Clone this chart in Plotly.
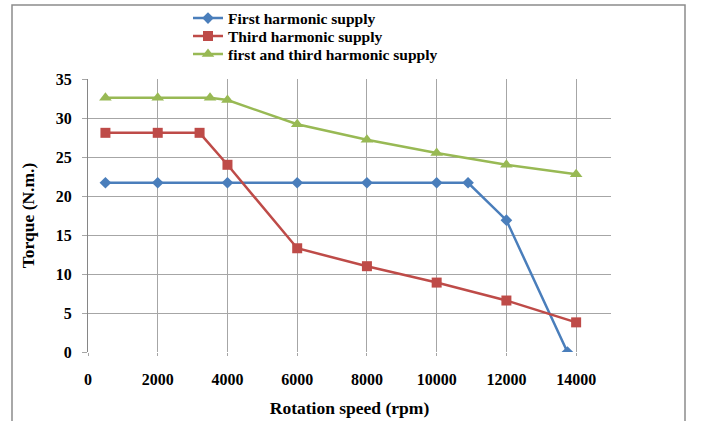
import plotly.graph_objects as go

first_x = [500, 2000, 4000, 6000, 8000, 10000, 10900, 12000, 13750]
first_y = [21.7, 21.7, 21.7, 21.7, 21.7, 21.7, 21.7, 16.9, 0.0]

third_x = [500, 2000, 3200, 4000, 6000, 8000, 10000, 12000, 14000]
third_y = [28.1, 28.1, 28.1, 24.0, 13.3, 11.0, 8.9, 6.6, 3.8]

both_x = [500, 2000, 3500, 4000, 6000, 8000, 10000, 12000, 14000]
both_y = [32.6, 32.6, 32.6, 32.3, 29.2, 27.2, 25.5, 24.0, 22.8]

names = ["First harmonic supply", "Third harmonic supply", "first and third harmonic supply"]
x_ticks = [0, 2000, 4000, 6000, 8000, 10000, 12000, 14000]

font = "Liberation Serif"
L, R, T, B = 88, 91, 79, 69
PW, PH = 702 - L - R, 421 - T - B


def px_x(p):
    return (p - L) / PW


def px_y(p):
    return (421 - B - p) / PH


fig = go.Figure()
fig.add_trace(go.Scatter(x=first_x, y=first_y, name=names[0], mode="lines+markers", legend="legend",
                         line=dict(color="#4A7EBB", width=2.5),
                         marker=dict(symbol="diamond", size=9, color="#4A7EBB")))
fig.add_trace(go.Scatter(x=third_x, y=third_y, name=names[1], mode="lines+markers", legend="legend2",
                         line=dict(color="#BE4B48", width=2.5),
                         marker=dict(symbol="square", size=10, color="#BE4B48")))
fig.add_trace(go.Scatter(x=both_x, y=both_y, name=names[2], mode="lines+markers", legend="legend3",
                         line=dict(color="#98B954", width=2.5),
                         marker=dict(symbol="triangle-up", size=11, color="#98B954")))

leg_font = dict(family=font, size=15.5, color="black", weight="bold")
leg_common = dict(x=px_x(188), xanchor="left", yanchor="middle", font=leg_font,
                  itemwidth=30, bgcolor="rgba(0,0,0,0)")

fig.update_layout(
    width=702, height=421,
    margin=dict(l=L, r=R, t=T, b=B, autoexpand=False),
    paper_bgcolor="white", plot_bgcolor="white",
    font=dict(family=font, size=14, color="black"),
    showlegend=True,
    legend=dict(y=px_y(18.5), **leg_common),
    legend2=dict(y=px_y(36.5), **leg_common),
    legend3=dict(y=px_y(54.5), **leg_common),
    xaxis=dict(range=[0, 15000], tickvals=x_ticks, ticktext=[str(v) for v in x_ticks],
               tickangle=0,
               showgrid=True, gridcolor="#A6A6A6", gridwidth=1,
               zeroline=False, showline=False,
               ticks="outside", ticklen=3, tickcolor="#A6A6A6", ticklabelstandoff=10,
               tickfont=dict(family=font, size=16, weight="bold"),
               title=dict(text="Rotation speed (rpm)", font=dict(family=font, size=17.5, weight="bold"), standoff=14)),
    yaxis=dict(range=[0, 35], dtick=5,
               showgrid=True, gridcolor="#A6A6A6", gridwidth=1,
               zeroline=False, showline=True, linecolor="#868686", linewidth=1,
               ticks="outside", ticklen=5, tickcolor="#A6A6A6", ticklabelstandoff=7,
               tickfont=dict(family=font, size=16, weight="bold"),
               title=dict(text="Torque (N.m.)", font=dict(family=font, size=17.5, weight="bold"), standoff=16)),
)

fig.add_shape(type="rect", xref="paper", yref="paper",
              x0=px_x(12), x1=px_x(685), y0=-0.5, y1=px_y(5),
              line=dict(color="#8C8C8C", width=1.5), fillcolor="rgba(0,0,0,0)", layer="below")

fig.write_html("out.html", config={"displayModeBar": False},
               post_script="document.body.style.margin='0';")
